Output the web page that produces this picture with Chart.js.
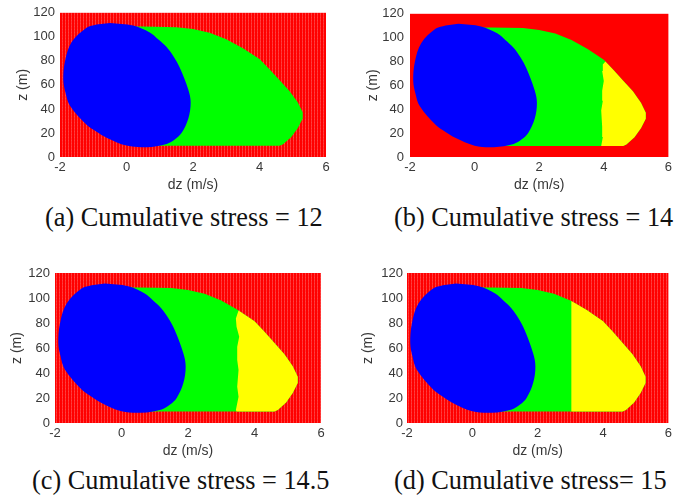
<!DOCTYPE html>
<html>
<head>
<meta charset="utf-8">
<script src="https://cdn.jsdelivr.net/npm/chart.js@4.4.1/dist/chart.umd.min.js"></script>
<style>
  body { margin: 0; background: #fff; width: 675px; height: 499px; position: relative; overflow: hidden; }
  canvas { position: absolute; }
  .legenda { position: absolute; font-family: "Liberation Serif", serif; font-size: 26.3px; line-height: 1; color: #111; white-space: nowrap; }
</style>
</head>
<body>
<script>
// --- DADOS ---
const xTicks = [-2, 0, 2, 4, 6];
const zTicks = [0, 20, 40, 60, 80, 100, 120];

// elipse azul (igual nos 4 paineis)
const azulDz = [-0.5, 0.2, 0.7, 0.95, 1.2, 1.42, 1.6, 1.86, 1.93, 1.86, 1.66, 1.46, 1.21, 0.6, 0.0, -0.6, -0.9, -1.2, -1.7, -1.83, -1.9, -1.85, -1.65, -1.2, -0.9];
const azulZ  = [111.6, 109.4, 103.6, 98, 91.7, 83.5, 74.5, 55.9, 45.3, 32, 20.1, 14.8, 10.9, 8.2, 9.5, 16.1, 21, 26.8, 42.7, 53, 63.8, 79.7, 95.6, 107.6, 110.2];

// contorno da regiao verde+amarela
const envDz = [-0.5, 0.5, 1.5, 2.0, 2.5, 3.0, 3.5, 4.0, 4.3, 4.6, 4.9, 5.15, 5.3, 5.3, 5.15, 4.95, 4.7, 4.6, 0.5];
const envZ  = [108.5, 108.5, 108, 106.5, 103.5, 98, 90.5, 81.5, 73, 64, 55, 45.5, 37, 32, 24, 16.5, 10.5, 9.3, 9.3];

// fronteira verde/amarelo em cada painel (de cima para baixo)
const corteB_dz = [4.05, 3.97, 3.95, 4.0, 3.95, 3.97, 3.92, 3.95, 3.97, 3.92];
const corteB_z  = [80.1, 77.6, 72, 63.7, 55.5, 47.2, 38.9, 25.1, 16.8, 9.3];
const corteC_dz = [3.52, 3.44, 3.46, 3.54, 3.48, 3.48, 3.52, 3.48, 3.52, 3.44, 3.46];
const corteC_z  = [90.1, 83.7, 77, 69, 61, 50.4, 42.4, 29, 21, 10.4, 9.3];
const corteD_dz = [3.03, 3.03];
const corteD_z  = [97.6, 9.3];

const legendas = ["(a) Cumulative stress = 12", "(b) Cumulative stress = 14", "(c) Cumulative stress = 14.5", "(d) Cumulative stress= 15"];

// --- LAYOUT DOS PAINEIS ---
const paineis = [
  { left: 0,   top: 0,   w: 340, h: 195, yw: 60, pt: 6,  pr: 14, xh: 38, yPad: 5, yTit: 14.6, xTit: 1.6, solido: false, cdz: [],        cz: [],        leg: [45, 205] },
  { left: 340, top: 0,   w: 335, h: 195, yw: 70, pt: 12, pr: 1,  xh: 38, yPad: 6, yTit: 24.6, xTit: 1.6, solido: true,  cdz: corteB_dz, cz: corteB_z,  leg: [394, 205] },
  { left: 0,   top: 260, w: 340, h: 200, yw: 55, pt: 13, pr: 19, xh: 37, yPad: 5, yTit: 9,    xTit: 0,   solido: false, cdz: corteC_dz, cz: corteC_z,  leg: [32, 468] },
  { left: 340, top: 260, w: 335, h: 200, yw: 67, pt: 13, pr: 3,  xh: 37, yPad: 4, yTit: 19.6, xTit: 0,   solido: false, cdz: corteD_dz, cz: corteD_z,  leg: [394, 468] }
];

const pts = (xs, ys) => xs.map((x, i) => ({ x, y: ys[i] }));

function amarelo(cdz, cz) {
  if (!cdz.length) return [];
  const direita = pts(envDz, envZ).filter(p => p.x > cdz[0]);
  return direita.concat(pts(cdz, cz).reverse());
}

// textura pontilhada do vermelho (listras verticais claras, bem suaves)
function padrao(ctx) {
  const c = document.createElement('canvas');
  c.width = 3; c.height = 3;
  const p = c.getContext('2d');
  p.fillStyle = '#ff0000'; p.fillRect(0, 0, 3, 3);
  p.fillStyle = 'rgba(255,150,150,0.35)'; p.fillRect(2, 0, 1, 3);
  p.fillStyle = 'rgba(255,150,150,0.15)'; p.fillRect(2, 2, 1, 1);
  return ctx.createPattern(c, 'repeat');
}

// fundo vermelho da area do grafico
const fundoVermelho = {
  id: 'fundoVermelho',
  beforeDatasetsDraw(chart, args, opts) {
    const { ctx, chartArea: a } = chart;
    ctx.save();
    ctx.fillStyle = opts.solido ? '#ff0000' : padrao(ctx);
    ctx.fillRect(a.left, a.top, a.right - a.left, a.bottom - a.top);
    ctx.restore();
  }
};

const regiao = (data, cor, ordem, tensao) => ({
  data, backgroundColor: cor, borderWidth: 0, pointRadius: 0, showLine: true, fill: 'shape', order: ordem, tension: tensao
});

const corTexto = '#383838';
const fonteEixo = { family: 'Liberation Sans, Arial, sans-serif', size: 13 };
const fonteTitulo = { family: 'Liberation Sans, Arial, sans-serif', size: 14 };

paineis.forEach((p, i) => {
  const cv = document.createElement('canvas');
  cv.width = p.w; cv.height = p.h;
  cv.style.left = p.left + 'px'; cv.style.top = p.top + 'px';
  document.body.appendChild(cv);

  new Chart(cv.getContext('2d'), {
    type: 'scatter',
    data: {
      datasets: [
        regiao(pts(azulDz, azulZ), '#0000ff', 0, 0.35),
        regiao(amarelo(p.cdz, p.cz), '#ffff00', 1, 0),
        regiao(pts(envDz, envZ), '#00ff00', 2, 0)
      ]
    },
    options: {
      responsive: false, devicePixelRatio: 1, animation: false, events: [],
      layout: { padding: { left: 0, top: p.pt, right: p.pr, bottom: 0 } },
      plugins: { legend: { display: false }, tooltip: { enabled: false }, fundoVermelho: { solido: p.solido } },
      scales: {
        x: {
          type: 'linear', min: -2, max: 6,
          afterBuildTicks: s => { s.ticks = xTicks.map(v => ({ value: v })); },
          afterFit: s => { s.height = p.xh; },
          grid: { display: false, drawTicks: false }, border: { display: false },
          ticks: { color: corTexto, font: fonteEixo, padding: 3, maxRotation: 0 },
          title: { display: true, text: 'dz (m/s)', color: corTexto, font: fonteTitulo, padding: { top: 0, bottom: p.xTit } }
        },
        y: {
          type: 'linear', min: 0, max: 120,
          afterBuildTicks: s => { s.ticks = zTicks.map(v => ({ value: v })); },
          afterFit: s => { s.width = p.yw; },
          grid: { display: false, drawTicks: false }, border: { display: false },
          ticks: { color: corTexto, font: fonteEixo, padding: p.yPad },
          title: { display: true, text: 'z (m)', color: corTexto, font: fonteTitulo, padding: { top: p.yTit, bottom: 0 } }
        }
      }
    },
    plugins: [fundoVermelho]
  });

  const leg = document.createElement('div');
  leg.className = 'legenda';
  leg.style.left = p.leg[0] + 'px'; leg.style.top = p.leg[1] + 'px';
  leg.textContent = legendas[i];
  document.body.appendChild(leg);
});
</script>
</body>
</html>
